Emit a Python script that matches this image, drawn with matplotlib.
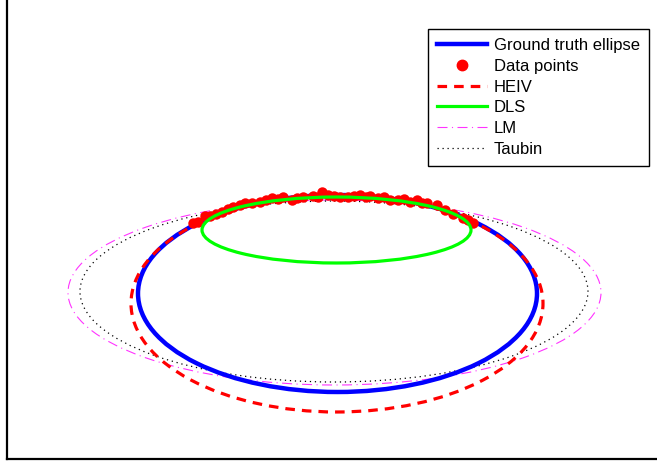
import matplotlib
matplotlib.use("Agg")
from matplotlib import pyplot as plt
from matplotlib.patches import Ellipse
from matplotlib.lines import Line2D

# ellipse parameters: center x, center y, full width, full height (pixel-like units)
truth = (337.5, 293.5, 399, 197)
heiv = (337, 303.5, 412, 217)
dls = (336.5, 230, 269, 66)
lm = (334.5, 292.5, 533, 185)
taubin = (334, 291.5, 508, 181)

# noisy data points on the upper arc
pts_x = [193, 198, 205, 210, 216, 222, 228, 233, 240, 245, 252, 260, 266, 272, 278,
         283, 292, 297, 303, 313, 318, 322, 328, 334, 340, 348, 354, 360, 366, 370,
         378, 384, 390, 398, 404, 410, 417, 422, 427, 437, 445, 453, 463, 468, 473]
pts_y = [223, 222, 216, 216, 214, 212, 209, 207, 205, 203, 203, 202, 200, 198, 199,
         197, 200, 198, 197, 196, 197, 192, 195, 196, 197, 197, 196, 195, 197, 196,
         198, 197, 200, 200, 199, 202, 200, 203, 203, 205, 210, 214, 218, 220, 223]

fig = plt.figure(figsize=(6.57, 4.61), dpi=100)
ax = fig.add_axes([7/657, 2/461, 1.0, 1.0])
ax.set_xlim(7, 7 + 657)
ax.set_ylim(459, 459 - 461)
ax.set_xticks([])
ax.set_yticks([])
for s in ax.spines.values():
	s.set_linewidth(1.6)

lm_style = (0, (9, 4, 1, 4))
dot_style = (0, (1, 3))

def add_ell(p, **kw):
	e = Ellipse((p[0], p[1]), p[2], p[3], fill=False, **kw)
	ax.add_patch(e)

add_ell(lm, edgecolor="#ff33ff", linestyle=lm_style, linewidth=0.8, zorder=2)
add_ell(taubin, edgecolor="black", linestyle=dot_style, linewidth=0.9, zorder=2)
add_ell(truth, edgecolor="#0000ff", linewidth=3.2, zorder=3)
ax.plot(pts_x, pts_y, "o", color="#ff0000", markersize=7.5, markeredgewidth=0, zorder=4)
add_ell(heiv, edgecolor="#ff0000", linestyle=(0, (3, 2.2)), linewidth=2.3, zorder=5)
add_ell(dls, edgecolor="#00ff00", linewidth=2.3, zorder=6)

handles = [
	Line2D([], [], color="#0000ff", linewidth=3.2),
	Line2D([], [], color="#ff0000", marker="o", linestyle="none", markersize=7.5),
	Line2D([], [], color="#ff0000", linewidth=2.3, linestyle=(0, (3, 2.2))),
	Line2D([], [], color="#00ff00", linewidth=2.3),
	Line2D([], [], color="#ff33ff", linewidth=0.8, linestyle=lm_style),
	Line2D([], [], color="black", linewidth=0.9, linestyle=dot_style),
]
labels = ["Ground truth ellipse", "Data points", "HEIV", "DLS", "LM", "Taubin"]
leg = fig.legend(handles, labels, loc="upper right", bbox_to_anchor=(649/657, 1 - 29/461),
	prop={"family": "Liberation Sans", "size": 12}, frameon=True, fancybox=False,
	edgecolor="black", framealpha=1, handlelength=3.0, handletextpad=0.4,
	labelspacing=0.34, borderpad=0.55, borderaxespad=0)
leg.get_frame().set_linewidth(1.0)

plt.savefig("out.png", dpi=100)
